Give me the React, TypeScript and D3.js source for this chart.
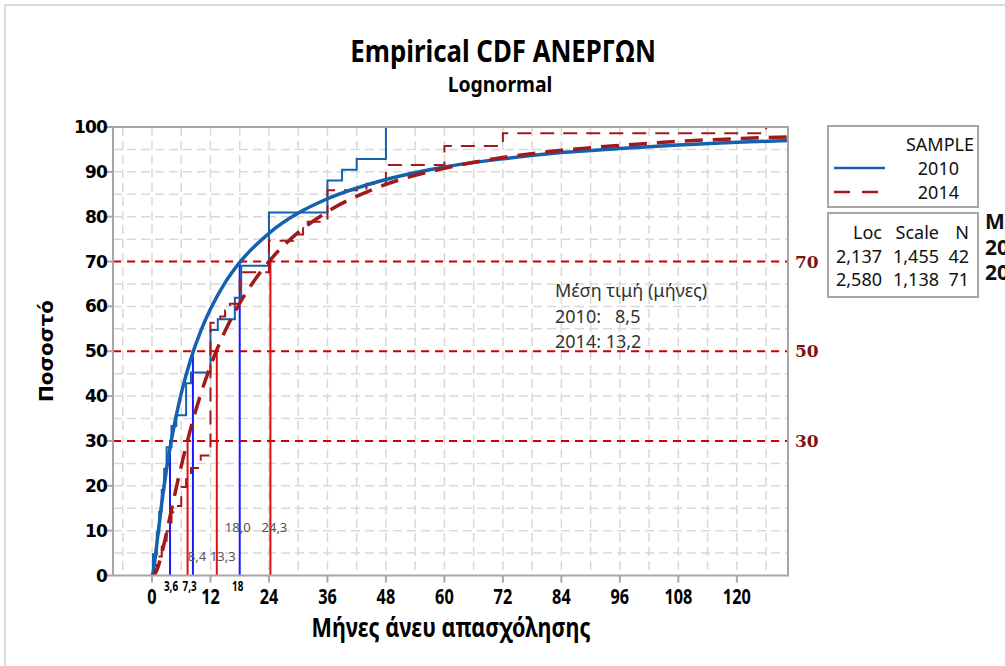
import React from 'react';
import * as d3 from 'd3';

// empirical data (months, cumulative counts)
const months2010 = [0.2, 1, 1.5, 2, 2.5, 3, 4, 5, 7, 8, 12, 13.5, 17, 18.3, 24, 36, 39, 42, 48];
const cum2010 = [2, 4, 6, 8, 10, 12, 14, 15, 18, 19, 23, 24, 26, 29, 34, 37, 38, 39, 42];
const months2014 = [0.5, 1, 2, 3, 4, 5, 6, 7, 8, 10, 12, 14, 15, 16, 18, 24, 29, 31, 36, 44, 48, 60, 72, 126];
const cum2014 = [1, 3, 5, 7, 10, 11, 14, 16, 17, 19, 40, 41, 42, 43, 48, 53, 54, 56, 61, 62, 65, 68, 70, 71];

// fitted lognormal curves (percent)
const fitMonths = [0, 0.25, 0.5, 1, 2, 3, 4, 6, 8, 10, 12, 15, 18, 24, 30, 36, 48, 60, 72, 84, 96, 108, 120, 131];
const fit2010 = [0, 0.8, 2.6, 7.1, 16.1, 23.8, 30.3, 40.6, 48.4, 54.5, 59.4, 65.3, 69.8, 76.3, 80.8, 84.0, 88.3, 91.1, 92.9, 94.3, 95.2, 96.0, 96.6, 97.0];
const fit2014 = [0, 0.05, 0.2, 1.2, 4.9, 9.6, 14.7, 24.4, 33.0, 40.4, 46.7, 54.5, 60.7, 70.0, 76.5, 81.1, 87.2, 90.8, 93.2, 94.8, 95.9, 96.8, 97.4, 97.8];

const percentLevels = [30, 50, 70];
const quant2010 = [3.7, 8.4, 18.0];
const quant2014 = [7.3, 13.3, 24.3];
const axisNotes = ['3,6', '7,3', '18'];
const innerNotes = ['8,4', '13,3', '18,0', '24,3'];

const xTicks = d3.range(0, 121, 12);
const yTicks = d3.range(0, 101, 10);

const series = ['2010', '2014'];
const locs = ['2,137', '2,580'];
const scales = ['1,455', '1,138'];
const counts = [42, 71];
const means = ['8,5', '13,2'];

const BLUE = '#1660b0';
const DARKRED = '#a11a1a';
const SANS = '"Noto Sans", "Open Sans", sans-serif';

// narrow bold text, squeezed horizontally
const Narrow = ({ x, y, sx = 0.82, size, anchor = 'middle', children }:
  { x: number; y: number; sx?: number; size: number; anchor?: string; children: React.ReactNode }) => (
  <text transform={`translate(${x},${y}) scale(${sx},1)`} textAnchor={anchor}
    fontFamily={SANS} fontWeight="bold" fontSize={size}>{children}</text>
);

export default function App() {
  const W = 1005, H = 666;
  const x = d3.scaleLinear().domain([-8, 130.5]).range([113, 788]);
  const y = d3.scaleLinear().domain([0, 100]).range([575.5, 127]);

  const stepLine = d3.line<[number, number]>()
    .x(d => x(d[0])).y(d => y(d[1]))
    .curve(d3.curveStepAfter);
  const fitLine = d3.line<[number, number]>()
    .x(d => x(d[0])).y(d => y(d[1]))
    .curve(d3.curveMonotoneX);

  const steps = (m: number[], c: number[], n: number): [number, number][] => {
    const pts: [number, number][] = [[m[0], 0]];
    m.forEach((v, i) => pts.push([v, (c[i] / n) * 100]));
    pts.push([131, 100]);
    return pts;
  };

  const step2010 = steps(months2010, cum2010, counts[0]);
  const step2014 = steps(months2014, cum2014, counts[1]);
  const f2010 = fitMonths.map((m, i) => [m, fit2010[i]] as [number, number]);
  const f2014 = fitMonths.map((m, i) => [m, fit2014[i]] as [number, number]);

  const x0 = 113, x1 = 788, yTop = 127, yBot = 575.5;

  return (
    <div style={{ position: 'absolute', left: 0, top: 0 }}>
      <svg width={W} height={H} style={{ display: 'block', background: '#fff' }}>
        <defs>
          <clipPath id="plotClip">
            <rect x={x0} y={yTop} width={x1 - x0} height={yBot - yTop} />
          </clipPath>
        </defs>
        {/* outer frame */}
        <path d={`M5,${H} L5,5 L${W + 5},5`} fill="none" stroke="#cfcfcf" strokeWidth={1.5} />

        {/* titles */}
        <Narrow x={503} y={62} size={30} sx={0.86}>Empirical CDF ΑΝΕΡΓΩΝ</Narrow>
        <Narrow x={500} y={92} size={22} sx={0.88}>Lognormal</Narrow>

        {/* grid */}
        <g stroke="#d9d9d9" strokeWidth={1.5} strokeDasharray="9,5">
          {d3.range(-6, 130, 6).map(v => (
            <line key={'gx' + v} x1={x(v)} x2={x(v)} y1={yTop} y2={yBot} />
          ))}
          {d3.range(5, 100, 5).map(v => (
            <line key={'gy' + v} x1={x0} x2={x1} y1={y(v)} y2={y(v)} />
          ))}
        </g>

        {/* percentile reference lines */}
        <g stroke="#d40000" strokeWidth={2} strokeDasharray="8,6">
          {percentLevels.map(p => (
            <line key={'p' + p} x1={x0} x2={x1} y1={y(p)} y2={y(p)} />
          ))}
        </g>
        {percentLevels.map(p => (
          <text key={'pl' + p} x={795} y={y(p) + 6} fontFamily='"DejaVu Serif", "Liberation Serif", serif' fontWeight="bold" fontSize={17} fill="#7a1414">{p}</text>
        ))}

        <g clipPath="url(#plotClip)">
          {/* quantile verticals */}
          {quant2010.map((q, i) => (
            <line key={'qb' + i} x1={x(q)} x2={x(q)} y1={yBot} y2={y(percentLevels[i])} stroke="#1a1aff" strokeWidth={2} />
          ))}
          {quant2014.map((q, i) => (
            <line key={'qr' + i} x1={x(q)} x2={x(q)} y1={yBot} y2={y(percentLevels[i])} stroke="#e01010" strokeWidth={2} />
          ))}

          {/* empirical steps */}
          <path d={stepLine(step2010) || ''} fill="none" stroke={BLUE} strokeWidth={2} />
          <path d={stepLine(step2014) || ''} fill="none" stroke={DARKRED} strokeWidth={2} strokeDasharray="14,9" />

          {/* fits */}
          <path d={fitLine(f2010) || ''} fill="none" stroke={BLUE} strokeWidth={3.5} />
          <path d={fitLine(f2014) || ''} fill="none" stroke={DARKRED} strokeWidth={3.5} strokeDasharray="18,10" />
        </g>

        {/* inner value notes */}
        <g fontFamily={SANS} fontSize={13} fill="#555">
          <text x={x(quant2010[1]) + 4} y={y(3.2)} textAnchor="middle">{innerNotes[0]}</text>
          <text x={x(quant2014[1]) + 6} y={y(3.2)} textAnchor="middle">{innerNotes[1]}</text>
          <text x={x(quant2010[2]) - 2} y={y(9.6)} textAnchor="middle">{innerNotes[2]}</text>
          <text x={x(quant2014[2]) + 4} y={y(9.6)} textAnchor="middle">{innerNotes[3]}</text>
        </g>

        {/* plot frame */}
        <rect x={x0} y={yTop} width={x1 - x0} height={yBot - yTop} fill="none" stroke="#a6a6a6" strokeWidth={2} />

        {/* y axis */}
        {yTicks.map(t => (
          <g key={'yt' + t}>
            <line x1={x0 - 7} x2={x0} y1={y(t)} y2={y(t)} stroke="#a6a6a6" strokeWidth={2} />
            <text x={x0 - 6} y={y(t) + 6} textAnchor="end" fontFamily='"DejaVu Sans", sans-serif' fontWeight="bold" fontSize={17} letterSpacing={-0.8}>{t}</text>
          </g>
        ))}
        <text transform={`translate(53,351) rotate(-90)`} textAnchor="middle" fontFamily='"DejaVu Sans", sans-serif' fontWeight="bold" fontSize={20}>Ποσοστό</text>

        {/* x axis */}
        {xTicks.map(t => (
          <g key={'xt' + t}>
            <line x1={x(t)} x2={x(t)} y1={yBot} y2={yBot + 7} stroke="#a6a6a6" strokeWidth={2} />
            <Narrow x={x(t)} y={604} size={22} sx={0.74}>{t}</Narrow>
          </g>
        ))}
        <Narrow x={x(quant2010[0]) + 1} y={591} size={15} sx={0.66}>{axisNotes[0]}</Narrow>
        <Narrow x={x(quant2014[0]) + 2} y={591} size={15} sx={0.66}>{axisNotes[1]}</Narrow>
        <Narrow x={x(quant2010[2]) - 2} y={591} size={15} sx={0.66}>{axisNotes[2]}</Narrow>
        <Narrow x={451} y={637} size={26} sx={0.83}>Μήνες άνευ απασχόλησης</Narrow>

        {/* mean annotation */}
        <g fontFamily={SANS} fontSize={18} fill="#333">
          <text x={555} y={297}>Μέση τιμή (μήνες)</text>
          <text x={555} y={323} xmlSpace="preserve">{`${series[0]}:   ${means[0]}`}</text>
          <text x={555} y={348}>{`${series[1]}: ${means[1]}`}</text>
        </g>

        {/* legend */}
        <rect x={828} y={126} width={150} height={81} fill="#fff" stroke="#a6a6a6" strokeWidth={2} />
        <g fontFamily={SANS} fontSize={18} fill="#111">
          <text x={974} y={151} textAnchor="end">SAMPLE</text>
          <text x={959} y={175} textAnchor="end">{series[0]}</text>
          <text x={959} y={199} textAnchor="end">{series[1]}</text>
        </g>
        <line x1={834} x2={885} y1={168} y2={168} stroke={BLUE} strokeWidth={2.5} />
        <line x1={834} x2={882} y1={192} y2={192} stroke={DARKRED} strokeWidth={2.5} strokeDasharray="16,12" />

        <rect x={828} y={213} width={150} height={84} fill="#fff" stroke="#a6a6a6" strokeWidth={2} />
        <g fontFamily={SANS} fontSize={18} fill="#111">
          <text x={882} y={239} textAnchor="end">Loc</text>
          <text x={939} y={239} textAnchor="end">Scale</text>
          <text x={969} y={239} textAnchor="end">N</text>
          {series.map((s, i) => (
            <g key={'row' + s}>
              <text x={882} y={263 + i * 23} textAnchor="end">{locs[i]}</text>
              <text x={939} y={263 + i * 23} textAnchor="end">{scales[i]}</text>
              <text x={969} y={263 + i * 23} textAnchor="end">{counts[i]}</text>
            </g>
          ))}
        </g>
        <g fontFamily={SANS} fontWeight="bold" fontSize={21} fill="#111">
          <text x={985} y={229}>Mean</text>
          <text x={985} y={255}>{series[0]}</text>
          <text x={985} y={280}>{series[1]}</text>
        </g>
      </svg>
    </div>
  );
}
